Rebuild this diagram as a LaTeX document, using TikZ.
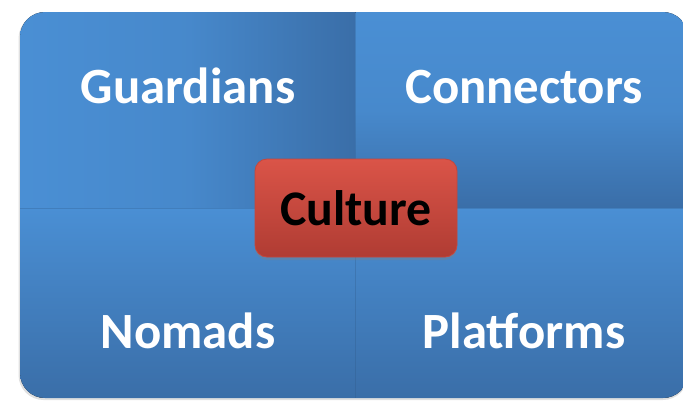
\documentclass[tikz,border=0pt]{standalone}
\usepackage{fontspec}
\setmainfont{Carlito}
\usetikzlibrary{shadows}

\definecolor{bluelight}{HTML}{4A8FD4}
\definecolor{bluedark}{HTML}{3A6EA8}
\definecolor{redlight}{HTML}{DA5448}
\definecolor{reddark}{HTML}{B03C33}
\definecolor{redline}{HTML}{C4473D}

\begin{document}
\begin{tikzpicture}[x=1bp,y=-1bp,
  lbl/.style={font=\fontsize{51}{60}\selectfont\bfseries, text=white, anchor=base, inner sep=0pt},
  core/.style={rounded corners=12bp, minimum width=202bp, minimum height=98bp,
    top color=redlight, bottom color=reddark, draw=redline, line width=0.8bp,
    font=\fontsize{50}{60}\selectfont\bfseries, text=black,
    drop shadow={shadow xshift=0bp, shadow yshift=-3bp, opacity=0.35}},
  seam/.style={bluedark!80!black, opacity=0.3, line width=0.6bp}]
\useasboundingbox (0,0) rectangle (683,400);

\fill[black,opacity=0.12,rounded corners=25bp] (18.5,13.5) rectangle (688,400);

\begin{scope}
\clip[rounded corners=25bp] (20,12) rectangle (688,398);
\fill[left color=bluelight, right color=bluedark, middle color=bluelight!80!bluedark]
  (20,12) rectangle (355.5,208);
\fill[top color=bluelight, bottom color=bluedark, middle color=bluelight!82!bluedark]
  (355.5,12) rectangle (688,208);
\fill[top color=bluelight, bottom color=bluedark] (20,208) rectangle (355.5,398);
\fill[top color=bluelight, bottom color=bluedark] (355.5,208) rectangle (688,398);
\draw[seam] (355.5,12) -- (355.5,398);
\draw[seam] (20,208) -- (688,208);
\end{scope}

\node[lbl] (guard) at (188,103) {Guardians};
\node[lbl] (conn)  at (524,103) {Connectors};
\node[lbl] (nomad) at (188,348) {Nomads};
\node[lbl] (plat)  at (524,348) {Platforms};

\node[core] (culture) at (356,208) {Culture};

\end{tikzpicture}
\end{document}
